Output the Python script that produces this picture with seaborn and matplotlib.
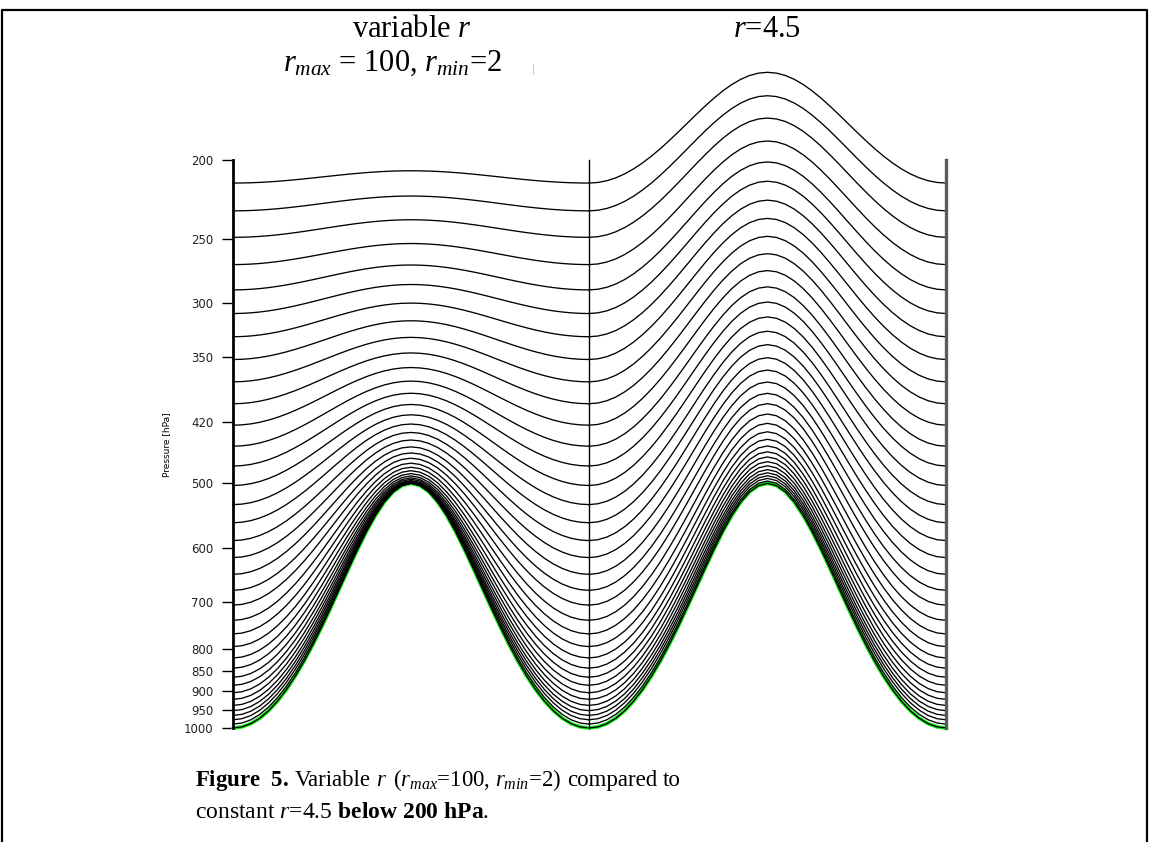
import numpy as np
import pandas as pd
import matplotlib
matplotlib.use("Agg")
import matplotlib.pyplot as plt
import seaborn as sns
from matplotlib.lines import Line2D
from matplotlib.ticker import FixedLocator, FixedFormatter, NullLocator

sns.set_theme(style="white")
plt.rcParams["font.family"] = ["DejaVu Sans"]
plt.rcParams["text.color"] = "black"
plt.rcParams["ytick.color"] = "black"
plt.rcParams["mathtext.fontset"] = "custom"
plt.rcParams["mathtext.rm"] = "Liberation Serif"
plt.rcParams["mathtext.it"] = "Liberation Serif:italic"
plt.rcParams["mathtext.bf"] = "Liberation Serif:bold"

# -----------------------------------------------------------------------------
# Data
# -----------------------------------------------------------------------------

# position across one panel (fraction of panel width)
x_frac = [i / 40 for i in range(41)]

# surface pressure (hPa) of the hill, green line
surface_p = [1000, 996.9, 987.8, 972.8, 952.3, 926.8, 896.9, 863.5, 827.3, 789.1,
             750, 710.9, 672.7, 636.5, 603.1, 573.2, 547.7, 527.2, 512.2, 503.1,
             500, 503.1, 512.2, 527.2, 547.7, 573.2, 603.1, 636.5, 672.7, 710.9,
             750, 789.1, 827.3, 863.5, 896.9, 926.8, 952.3, 972.8, 987.8, 996.9, 1000]

# model level pressure where surface is 1000 hPa (panel edges), top -> bottom
level_p_flat = [213.5, 231, 249, 269, 289, 309, 330, 352, 375, 399, 424, 450,
                476, 503, 531, 559, 588, 617, 647, 677, 706, 737, 766, 794,
                820, 844, 866, 886, 905, 922, 938, 952, 965, 977, 989, 1000]

# level pressure above the 500 hPa summit, variable r (left)
peak_p_variable = [206.2, 221.5, 236.9, 253.4, 269.3, 284.6, 300.0, 315.4, 330.6,
                   345.5, 360.1, 374.2, 387.3, 399.8, 411.7, 422.6, 432.8, 442.2,
                   450.9, 458.7, 465.6, 472.2, 477.7, 482.4, 486.4, 489.6, 492.2,
                   494.2, 496.0, 497.2, 498.2, 498.9, 499.4, 499.7, 499.9, 500]

# level pressure above the 500 hPa summit, r=4.5 (right)
peak_p_const = [156.0, 166.7, 177.6, 189.5, 201.1, 212.4, 224.1, 236.0, 248.3,
                260.8, 273.6, 286.5, 299.1, 312.0, 324.9, 337.5, 350.2, 362.7,
                375.2, 387.4, 398.9, 410.8, 421.8, 432.0, 441.3, 449.7, 457.2,
                463.9, 470.2, 475.7, 480.9, 485.3, 489.3, 493.0, 496.7, 500]

y_ticks = [200, 250, 300, 350, 420, 500, 600, 700, 800, 850, 900, 950, 1000]

caption_line1 = [r"$\mathbf{Figure\ \ 5.}$", "Variable", "$r$", "($r_{max}$=100,",
                 "$r_{min}$=2)", "compared", "to"]
caption_line2 = r"constant $r$=4.5 $\mathbf{below\ 200\ hPa}$."


def levels_frame(peak_p):
    # hybrid levels: p = A + B * ps, A and B from the flat and summit values
    ps = np.array(surface_p)
    frames = []
    for k, (pf, pp) in enumerate(zip(level_p_flat, peak_p)):
        b = (pf - pp) / 500.0
        a = pf - 1000.0 * b
        frames.append(pd.DataFrame({"x": x_frac, "p": a + b * ps, "level": k}))
    return pd.concat(frames, ignore_index=True)


# -----------------------------------------------------------------------------
# Plot
# -----------------------------------------------------------------------------
W, H = 1149, 842
fig = plt.figure(figsize=(W / 100, H / 100), dpi=100)


def box(x0, y0, x1, y1):
    return [x0 / W, 1 - y1 / H, (x1 - x0) / W, (y1 - y0) / H]


ax1 = fig.add_axes(box(233, 160, 589, 728))
ax2 = fig.add_axes(box(589, 160, 946, 728), sharey=ax1)

for ax, peak in ((ax1, peak_p_variable), (ax2, peak_p_const)):
    df = levels_frame(peak)
    ax.plot(x_frac, surface_p, color="#12f012", lw=2.6, zorder=1)
    sns.lineplot(data=df, x="x", y="p", units="level", estimator=None, sort=False,
                 color="black", lw=0.95, ax=ax)
    for line in ax.lines:
        line.set_clip_on(False)
    ax.set_xlim(0, 1)
    ax.set_yscale("log")
    ax.set_ylim(1000, 200)
    ax.set(xlabel=None, ylabel=None)
    ax.set_xticks([])
    ax.patch.set_alpha(0)
    ax.spines["top"].set_visible(False)
    ax.spines["bottom"].set_visible(False)

ax1.spines["right"].set_visible(False)
ax1.spines["left"].set_linewidth(2.0)
ax1.spines["left"].set_color("black")
ax2.spines["left"].set_linewidth(1.0)
ax2.spines["left"].set_color("black")
ax2.spines["right"].set_linewidth(2.4)
ax2.spines["right"].set_color("#5a5a5a")

ax1.yaxis.set_major_locator(FixedLocator(y_ticks))
ax1.yaxis.set_major_formatter(FixedFormatter([str(t) for t in y_ticks]))
ax1.yaxis.set_minor_locator(NullLocator())
ax1.tick_params(axis="y", which="major", direction="out", length=8, width=1,
                color="black", labelsize=8.5, labelcolor="#222222", pad=6, left=True)
ax2.tick_params(axis="y", which="both", left=False, labelleft=False)

fig.text(167 / W, 1 - 445 / H, "Pressure [hPa]", rotation=90, fontsize=6.5,
         ha="center", va="center")

# panel titles
serif = "Liberation Serif"
fig.text(412 / W, 1 - 37 / H, "variable $r$", family=serif, fontsize=22,
         ha="center", va="baseline")
fig.text(393 / W, 1 - 71 / H, "$r_{max}$ = 100, $r_{min}$=2", family=serif,
         fontsize=22, ha="center", va="baseline")
fig.text(767 / W, 1 - 37 / H, "$r$=4.5", family=serif, fontsize=22,
         ha="center", va="baseline")

# caption, first line justified between x=195 and x=681
fig.canvas.draw()
renderer = fig.canvas.get_renderer()
words = [fig.text(0, 1 - 786 / H, w, family=serif, fontsize=16.5, va="baseline")
         for w in caption_line1]
widths = [t.get_window_extent(renderer).width for t in words]
gap = (681 - 195 - sum(widths)) / (len(words) - 1)
xpos = 195
for t, w in zip(words, widths):
    t.set_x(xpos / W)
    xpos += w + gap
fig.text(195 / W, 1 - 818 / H, caption_line2, family=serif, fontsize=17,
         va="baseline")

# frame around the figure (no bottom edge) and a small scan mark
fig.add_artist(Line2D([2 / W, 2 / W, 1147 / W, 1147 / W], [0, 1 - 10 / H, 1 - 10 / H, 0],
                      transform=fig.transFigure, color="black", lw=1.6))
fig.add_artist(Line2D([533 / W, 533 / W], [1 - 64 / H, 1 - 74 / H],
                      transform=fig.transFigure, color="#cccccc", lw=0.8))

fig.savefig("out.png", dpi=100)
